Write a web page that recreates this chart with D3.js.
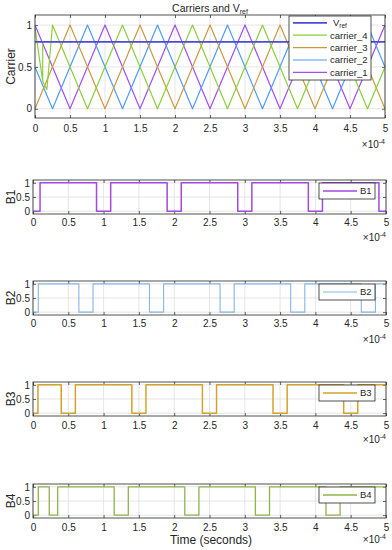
<!DOCTYPE html>
<html>
<head>
<meta charset="utf-8">
<script src="https://cdn.jsdelivr.net/npm/d3@7"></script>
<style>
  body { margin: 0; background: #fff; }
  svg { display: block; font-family: "Liberation Sans", Arial, sans-serif; }
</style>
</head>
<body>
<svg id="chart" width="392" height="550"></svg>
<script>
// time in units of 1e-4 s
const xTicks = [0, 0.5, 1, 1.5, 2, 2.5, 3, 3.5, 4, 4.5, 5];
const yTicks = [0, 0.5, 1];

const vrefT = [0, 5];
const vrefV = [0.8, 0.8];

const carrier1T = [0, 0.5, 1, 1.5, 2, 2.5, 3, 3.5, 4, 4.5, 5];
const carrier1V = [1, 0, 1, 0, 1, 0, 1, 0, 1, 0, 1];
const carrier2T = [0, 0.25, 0.75, 1.25, 1.75, 2.25, 2.75, 3.25, 3.75, 4.25, 4.75, 5];
const carrier2V = [0.5, 0, 1, 0, 1, 0, 1, 0, 1, 0, 1, 0.5];
const carrier3T = [0, 0.5, 1, 1.5, 2, 2.5, 3, 3.5, 4, 4.5, 5];
const carrier3V = [0, 1, 0, 1, 0, 1, 0, 1, 0, 1, 0];
const carrier4T = [0, 0.11, 0.11, 0.11, 0.17, 0.25, 0.75, 1.25, 1.75, 2.25, 2.75, 3.25, 3.75, 4.25, 4.75, 5];
const carrier4V = [0.97, 0.33, 0.8, 0.33, 0.23, 1, 0, 1, 0, 1, 0, 1, 0, 1, 0, 0.5];

const b1T = [0, 0.1, 0.9, 1.1, 1.9, 2.1, 2.9, 3.1, 3.9, 4.1, 4.9, 5];
const b1V = [0, 1, 0, 1, 0, 1, 0, 1, 0, 1, 0, 0];
const b2T = [0, 0.075, 0.65, 0.85, 1.65, 1.85, 2.65, 2.85, 3.65, 3.85, 4.65, 4.85, 5];
const b2V = [0, 1, 0, 1, 0, 1, 0, 1, 0, 1, 0, 1, 1];
const b3T = [0, 0.07, 0.4, 0.6, 1.4, 1.6, 2.4, 2.6, 3.4, 3.6, 4.4, 4.6, 5];
const b3V = [0, 1, 0, 1, 0, 1, 0, 1, 0, 1, 0, 1, 1];
const b4T = [0, 0.075, 0.23, 0.35, 1.15, 1.35, 2.15, 2.35, 3.15, 3.35, 4.15, 4.35, 5];
const b4V = [0, 1, 0, 1, 0, 1, 0, 1, 0, 1, 0, 1, 1];

const axisColor = '#262626';
const gridColor = '#dedede';

const svg = d3.select('svg#chart');

function zip(ts, vs) {
  return ts.map((t, i) => [t, vs[i]]);
}

function drawAxes(p) {
  const x = d3.scaleLinear().domain([0, 5]).range([p.left, p.right]);
  const y = d3.scaleLinear().domain(p.yDomain).range([p.bottom, p.top]);
  const g = svg.append('g');

  g.append('rect')
    .attr('x', p.left).attr('y', p.top)
    .attr('width', p.right - p.left).attr('height', p.bottom - p.top)
    .attr('fill', '#fff');

  g.append('g').selectAll('line').data(xTicks).join('line')
    .attr('x1', (d) => x(d)).attr('x2', (d) => x(d))
    .attr('y1', p.top).attr('y2', p.bottom)
    .attr('stroke', gridColor).attr('stroke-width', 0.8);
  g.append('g').selectAll('line').data(yTicks).join('line')
    .attr('x1', p.left).attr('x2', p.right)
    .attr('y1', (d) => y(d)).attr('y2', (d) => y(d))
    .attr('stroke', gridColor).attr('stroke-width', 0.8);

  const fmt = d3.format('~g');
  const axes = [
    [d3.axisBottom(x).tickValues(xTicks).tickFormat(fmt).tickPadding(p.xPad), `translate(0,${p.bottom})`],
    [d3.axisTop(x).tickValues(xTicks).tickFormat(''), `translate(0,${p.top})`],
    [d3.axisLeft(y).tickValues(yTicks).tickFormat(fmt).tickPadding(3), `translate(${p.left},0)`],
    [d3.axisRight(y).tickValues(yTicks).tickFormat(''), `translate(${p.right},0)`],
  ];
  axes.forEach(([ax, tr]) => {
    const a = g.append('g').attr('transform', tr)
      .call(ax.tickSizeInner(-3).tickSizeOuter(0));
    a.attr('font-family', null).attr('font-size', 10);
    a.select('.domain').remove();
    a.selectAll('.tick line').attr('stroke', axisColor).attr('stroke-width', 0.7);
    a.selectAll('.tick text').attr('fill', axisColor);
  });

  // x10^-4 exponent label
  const ex = g.append('text')
    .attr('x', p.right).attr('y', p.expY)
    .attr('text-anchor', 'end').attr('font-size', 10).attr('fill', axisColor);
  ex.append('tspan').text('×10');
  ex.append('tspan').attr('font-size', 7).attr('dy', -4).text('-4');

  // y label
  g.append('text')
    .attr('transform', `translate(15,${(p.top + p.bottom) / 2}) rotate(-90)`)
    .attr('text-anchor', 'middle').attr('font-size', 12).attr('fill', axisColor)
    .text(p.yLabel);

  return { x, y, g };
}

function drawLine(ctx, pts, color, width, curve) {
  const line = d3.line()
    .x((d) => ctx.x(d[0]))
    .y((d) => ctx.y(d[1]))
    .curve(curve || d3.curveLinear);
  ctx.g.append('path')
    .datum(pts)
    .attr('fill', 'none')
    .attr('stroke', color)
    .attr('stroke-width', width)
    .attr('stroke-linejoin', 'round')
    .attr('d', line);
}

function drawBox(ctx, p) {
  ctx.g.append('rect')
    .attr('x', p.left).attr('y', p.top)
    .attr('width', p.right - p.left).attr('height', p.bottom - p.top)
    .attr('fill', 'none').attr('stroke', axisColor).attr('stroke-width', 0.8);
}

function drawLegend(ctx, box, items) {
  const lg = ctx.g.append('g');
  lg.append('rect')
    .attr('x', box.x).attr('y', box.y).attr('width', box.w).attr('height', box.h)
    .attr('fill', '#fff').attr('stroke', axisColor).attr('stroke-width', 0.8);
  items.forEach((it, i) => {
    const cy = box.y + box.first + i * box.step;
    lg.append('line')
      .attr('x1', box.x + 4).attr('x2', box.x + box.lineW)
      .attr('y1', cy).attr('y2', cy)
      .attr('stroke', it.color).attr('stroke-width', it.width);
    const t = lg.append('text')
      .attr('x', box.x + box.lineW + 3 + (it.sub ? 3 : 0)).attr('y', cy + 3.4)
      .attr('font-size', 9.5).attr('fill', axisColor);
    t.append('tspan').text(it.label);
    if (it.sub) {
      t.append('tspan').attr('font-size', 6.5).attr('dy', 2).text(it.sub);
    }
  });
}

// ---- panel 1: carriers ----
const p1 = { left: 35, right: 385, top: 15, bottom: 118, yDomain: [-0.11, 1.12],
  xPad: 6.5, expY: 148, yLabel: 'Carrier' };
const c1 = drawAxes(p1);
const carrierColors = ['#a24ef0', '#4f9cf2', '#c99a40', '#8ccf3c'];
drawLine(c1, zip(carrier1T, carrier1V), carrierColors[0], 1.2);
drawLine(c1, zip(carrier2T, carrier2V), carrierColors[1], 1.2);
drawLine(c1, zip(carrier3T, carrier3V), carrierColors[2], 1.2);
drawLine(c1, zip(carrier4T, carrier4V), carrierColors[3], 1.2);
drawLine(c1, zip(vrefT, vrefV), '#4b4bd6', 1.8);
drawBox(c1, p1);
drawLegend(c1, { x: 289, y: 16, w: 82, h: 64, first: 6.8, step: 12.4, lineW: 38 }, [
  { label: 'V', sub: 'ref', color: '#4b4bd6', width: 1.8 },
  { label: 'carrier_4', color: carrierColors[3], width: 1.2 },
  { label: 'carrier_3', color: carrierColors[2], width: 1.2 },
  { label: 'carrier_2', color: carrierColors[1], width: 1.2 },
  { label: 'carrier_1', color: carrierColors[0], width: 1.2 },
]);

const title = svg.append('text')
  .attr('x', 210).attr('y', 12)
  .attr('text-anchor', 'middle').attr('font-size', 10.5).attr('fill', axisColor);
title.append('tspan').text('Carriers and V');
title.append('tspan').attr('font-size', 7).attr('dy', 2).text('ref');

// ---- switching signal panels ----
const bPanels = [
  { top: 180, xPad: 4.5, expY: 241, yLabel: 'B1', t: b1T, v: b1V, color: '#a04ae0', w: 1.5 },
  { top: 281, xPad: 4.5, expY: 343, yLabel: 'B2', t: b2T, v: b2V, color: '#86b4e6', w: 1.1 },
  { top: 382, xPad: 6, expY: 443, yLabel: 'B3', t: b3T, v: b3V, color: '#d4a22a', w: 1.5 },
  { top: 484, xPad: 6, expY: 543, yLabel: 'B4', t: b4T, v: b4V, color: '#8fb34a', w: 1.3 },
];

bPanels.forEach((bp) => {
  const p = Object.assign({ left: 33, right: 386, bottom: bp.top + 34, yDomain: [-0.1, 1.1] }, bp);
  const ctx = drawAxes(p);
  drawLine(ctx, zip(bp.t, bp.v), bp.color, bp.w, d3.curveStepAfter);
  drawBox(ctx, p);
  drawLegend(ctx, { x: 319, y: p.top + 3, w: 56, h: 16, first: 8, step: 0, lineW: 38 }, [
    { label: bp.yLabel, color: bp.color, width: bp.w },
  ]);
});

svg.append('text')
  .attr('x', 211).attr('y', 544)
  .attr('text-anchor', 'middle').attr('font-size', 12).attr('fill', axisColor)
  .text('Time (seconds)');
</script>
</body>
</html>
